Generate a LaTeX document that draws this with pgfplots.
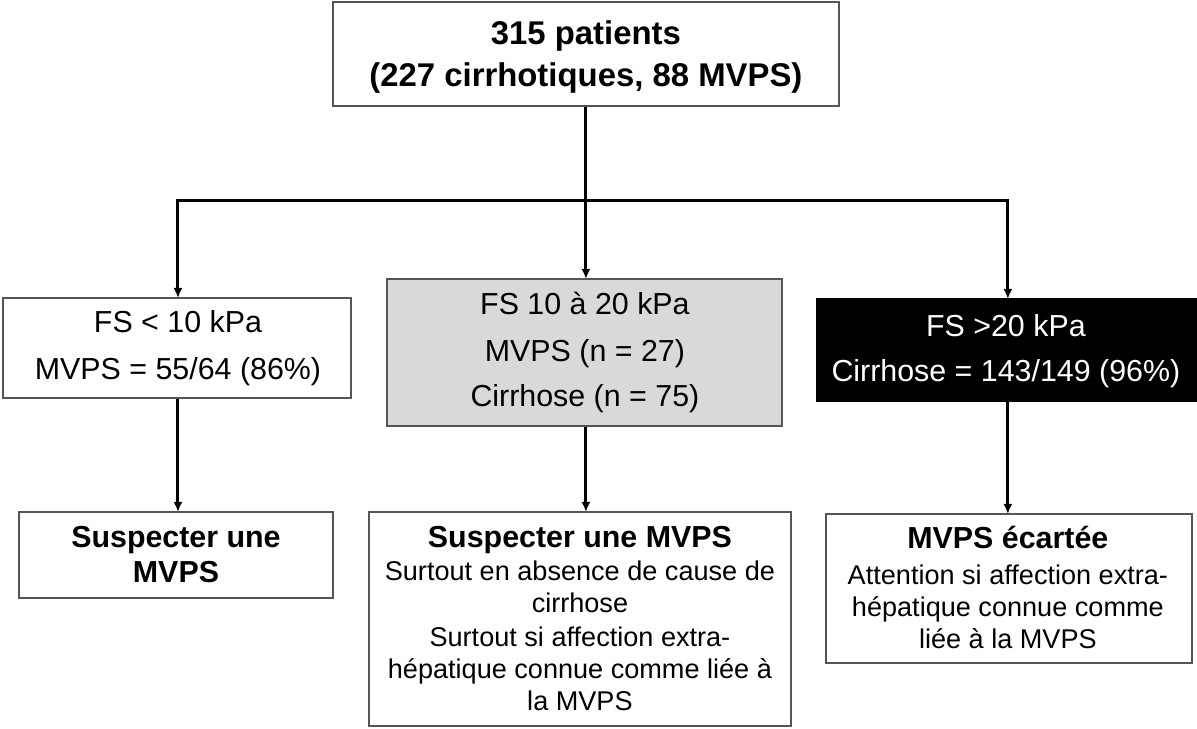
\documentclass[border=0pt]{standalone}
\usepackage{pgfplots}
\pgfplotsset{compat=1.18}
\usepackage{fontspec}
\setmainfont{Liberation Sans}
\usetikzlibrary{arrows.meta}
\definecolor{boxgray}{HTML}{D9D9D9}
\definecolor{edge}{HTML}{555555}
\begin{document}
\begin{tikzpicture}
\begin{axis}[
  scale only axis, width=1197bp, height=729bp,
  xmin=0, xmax=1197, ymin=0, ymax=729, y dir=reverse,
  hide axis, clip=false]
% frame the page
\path (axis cs:0,0) rectangle (axis cs:1197,729);
% connectors
\draw[line width=3bp] (axis cs:586,106) -- (axis cs:586,201);
\draw[line width=3bp] (axis cs:176.5,201) -- (axis cs:1009.5,201);
\draw[line width=3bp,-{Latex[length=10bp,width=9bp]}] (axis cs:178,200) -- (axis cs:178,298);
\draw[line width=3bp,-{Latex[length=10bp,width=9bp]}] (axis cs:586,200) -- (axis cs:586,279);
\draw[line width=3bp,-{Latex[length=10bp,width=9bp]}] (axis cs:1008,200) -- (axis cs:1008,299);
\draw[line width=3bp,-{Latex[length=10bp,width=9bp]}] (axis cs:178,398) -- (axis cs:178,512);
\draw[line width=3bp,-{Latex[length=10bp,width=9bp]}] (axis cs:586,426) -- (axis cs:586,512);
\draw[line width=3bp,-{Latex[length=10bp,width=9bp]}] (axis cs:1008,401) -- (axis cs:1008,514);
% boxes
\draw[edge, line width=1.3bp, fill=white] (axis cs:333,2) rectangle (axis cs:839,106);
\draw[edge, line width=1.3bp, fill=white] (axis cs:3,298) rectangle (axis cs:351,398);
\draw[edge, line width=1.3bp, fill=boxgray] (axis cs:387,279) rectangle (axis cs:782,426);
\draw[black, line width=1.3bp, fill=black] (axis cs:817,299) rectangle (axis cs:1196.5,401);
\draw[edge, line width=1.3bp, fill=white] (axis cs:19,512) rectangle (axis cs:333,598);
\draw[edge, line width=1.3bp, fill=white] (axis cs:369,512) rectangle (axis cs:791,726);
\draw[edge, line width=1.3bp, fill=white] (axis cs:826,514) rectangle (axis cs:1192,663);
% top box text
\node[anchor=base, font=\fontsize{33}{38}\selectfont\bfseries, inner sep=0] at (axis cs:586,45) {315 patients};
\node[anchor=base, font=\fontsize{33}{38}\selectfont\bfseries, inner sep=0] at (axis cs:586,87) {(227 cirrhotiques, 88 MVPS)};
% middle row
\node[anchor=base, font=\fontsize{30.5}{34}\selectfont, inner sep=0] at (axis cs:178,333) {FS < 10 kPa};
\node[anchor=base, font=\fontsize{30.5}{34}\selectfont, inner sep=0] at (axis cs:178,380) {MVPS = 55/64 (86\%)};
\node[anchor=base, font=\fontsize{30.5}{34}\selectfont, inner sep=0] at (axis cs:585,315) {FS 10 à 20 kPa};
\node[anchor=base, font=\fontsize{30.5}{34}\selectfont, inner sep=0] at (axis cs:585,362) {MVPS (n = 27)};
\node[anchor=base, font=\fontsize{30.5}{34}\selectfont, inner sep=0] at (axis cs:585,407) {Cirrhose (n = 75)};
\node[anchor=base, font=\fontsize{30.5}{34}\selectfont, inner sep=0, text=white] at (axis cs:1006,337) {FS >20 kPa};
\node[anchor=base, font=\fontsize{30.5}{34}\selectfont, inner sep=0, text=white] at (axis cs:1006,382) {Cirrhose = 143/149 (96\%)};
% bottom left
\node[anchor=base, font=\fontsize{30.5}{34}\selectfont\bfseries, inner sep=0] at (axis cs:176,548) {Suspecter une};
\node[anchor=base, font=\fontsize{30.5}{34}\selectfont\bfseries, inner sep=0] at (axis cs:176,583) {MVPS};
% bottom middle
\node[anchor=base, font=\fontsize{30.5}{34}\selectfont\bfseries, inner sep=0] at (axis cs:580,548) {Suspecter une MVPS};
\node[anchor=base, font=\fontsize{27.2}{30}\selectfont, inner sep=0] at (axis cs:580,581) {Surtout en absence de cause de};
\node[anchor=base, font=\fontsize{27.2}{30}\selectfont, inner sep=0] at (axis cs:580,613) {cirrhose};
\node[anchor=base, font=\fontsize{27.2}{30}\selectfont, inner sep=0] at (axis cs:580,647) {Surtout si affection extra-};
\node[anchor=base, font=\fontsize{27.2}{30}\selectfont, inner sep=0] at (axis cs:580,679) {hépatique connue comme liée à};
\node[anchor=base, font=\fontsize{27.2}{30}\selectfont, inner sep=0] at (axis cs:580,711) {la MVPS};
% bottom right
\node[anchor=base, font=\fontsize{30.5}{34}\selectfont\bfseries, inner sep=0] at (axis cs:1008,549) {MVPS écartée};
\node[anchor=base, font=\fontsize{27.2}{30}\selectfont, inner sep=0] at (axis cs:1008,585) {Attention si affection extra-};
\node[anchor=base, font=\fontsize{27.2}{30}\selectfont, inner sep=0] at (axis cs:1008,617) {hépatique connue comme};
\node[anchor=base, font=\fontsize{27.2}{30}\selectfont, inner sep=0] at (axis cs:1008,649) {liée à la MVPS};
\end{axis}
\end{tikzpicture}
\end{document}
